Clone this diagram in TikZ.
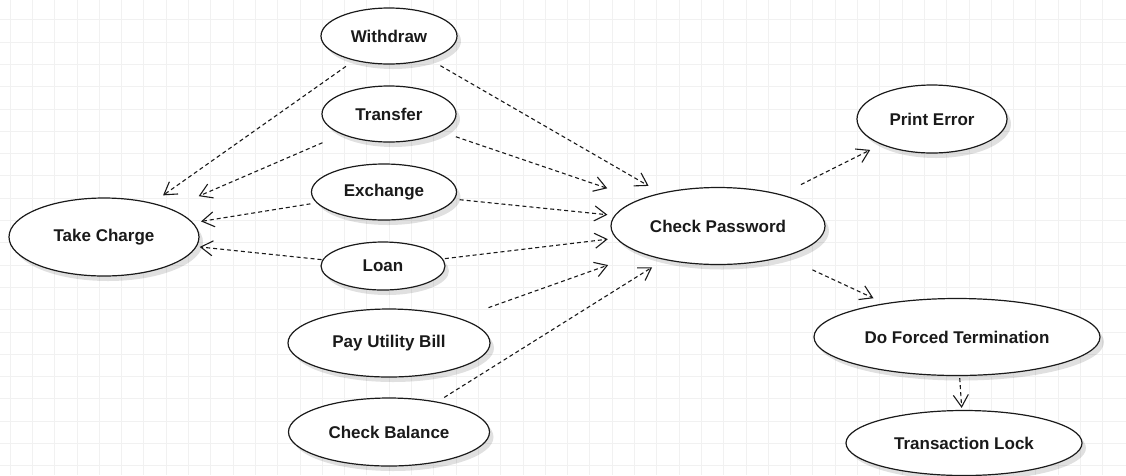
\documentclass[tikz,border=0pt]{standalone}
\usepackage{fontspec}
\setmainfont{Liberation Sans}
\usepackage{xcolor}
\usetikzlibrary{shapes.geometric, arrows.meta, shadows}
\definecolor{gradecor}{HTML}{F1F1F1}
\definecolor{traco}{HTML}{1A1A1A}

\begin{document}
\begin{tikzpicture}[x=1pt, y=-1pt,
    caso/.style={ellipse, draw=traco, line width=1.2pt, fill=white, inner sep=0pt,
      font=\fontsize{17}{20}\selectfont\bfseries, text=traco,
      drop shadow={shadow xshift=4pt, shadow yshift=-5pt, fill=black, opacity=0.12}},
    dep/.style={draw=traco, line width=1.1pt, dash pattern=on 4pt off 3pt,
      -{Straight Barb[length=12pt, width=15pt]}}]

        \useasboundingbox (0,0) rectangle (1126,475);

        % Grade de fundo
        \foreach \gx in {0,...,49} {
          \draw[gradecor, line width=0.8pt] ({10+22.3*\gx},0) -- ({10+22.3*\gx},475);
        }
        \foreach \gy in {1,...,21} {
          \draw[gradecor, line width=0.8pt] (0,{-2.6+22.3*\gy}) -- (1126,{-2.6+22.3*\gy});
        }

        % Casos de uso
        \node[caso, minimum width=136, minimum height=56] (withdraw) at (389,36) {Withdraw};
        \node[caso, minimum width=134, minimum height=56] (transfer) at (389,114) {Transfer};
        \node[caso, minimum width=145, minimum height=56] (exchange) at (384,192) {Exchange};
        \node[caso, minimum width=124, minimum height=48] (loan) at (383,266) {Loan};
        \node[caso, minimum width=190, minimum height=78] (takecharge) at (104,237) {Take Charge};
        \node[caso, minimum width=202, minimum height=68] (payutility) at (389,343) {Pay Utility Bill};
        \node[caso, minimum width=201, minimum height=68] (checkbalance) at (389,432) {Check Balance};
        \node[caso, minimum width=214, minimum height=77] (checkpassword) at (718,226) {Check Password};
        \node[caso, minimum width=150, minimum height=68] (printerror) at (932,119) {Print Error};
        \node[caso, minimum width=286, minimum height=77] (forced) at (957,337) {Do Forced Termination};
        \node[caso, minimum width=236, minimum height=65] (lock) at (964,443) {Transaction Lock};

        % Take Charge
        \draw[dep, shorten <=10pt, shorten >=13pt] (withdraw) -- (takecharge);
        \draw[dep, shorten <=21pt, shorten >=31pt] (transfer) -- (takecharge);
        \draw[dep, shorten <=6pt, shorten >=8pt] (exchange) -- (takecharge);
        \draw[dep, shorten <=1pt, shorten >=3pt] (loan) -- (takecharge);

        % Check Password
        \draw[dep, shorten <=13pt, shorten >=14pt] (withdraw) -- (checkpassword);
        \draw[dep, shorten <=15pt, shorten >=34pt] (transfer) -- (checkpassword);
        \draw[dep, shorten <=5pt, shorten >=7pt] (exchange) -- (checkpassword);
        \draw[dep, shorten <=2pt, shorten >=8pt] (loan) -- (checkpassword);
        \draw[dep, shorten <=31pt, shorten >=35pt] (payutility) -- (checkpassword);
        \draw[dep, shorten <=8pt, shorten >=14pt] (checkbalance) -- (checkpassword);

        % Saidas
        \draw[dep, shorten <=22pt, shorten >=12pt] (checkpassword) -- (printerror);
        \draw[dep, shorten <=31pt, shorten >=12pt] (checkpassword) -- (forced);
        \draw[dep, shorten <=2pt, shorten >=2pt] (forced) -- (lock);
\end{tikzpicture}
\end{document}
